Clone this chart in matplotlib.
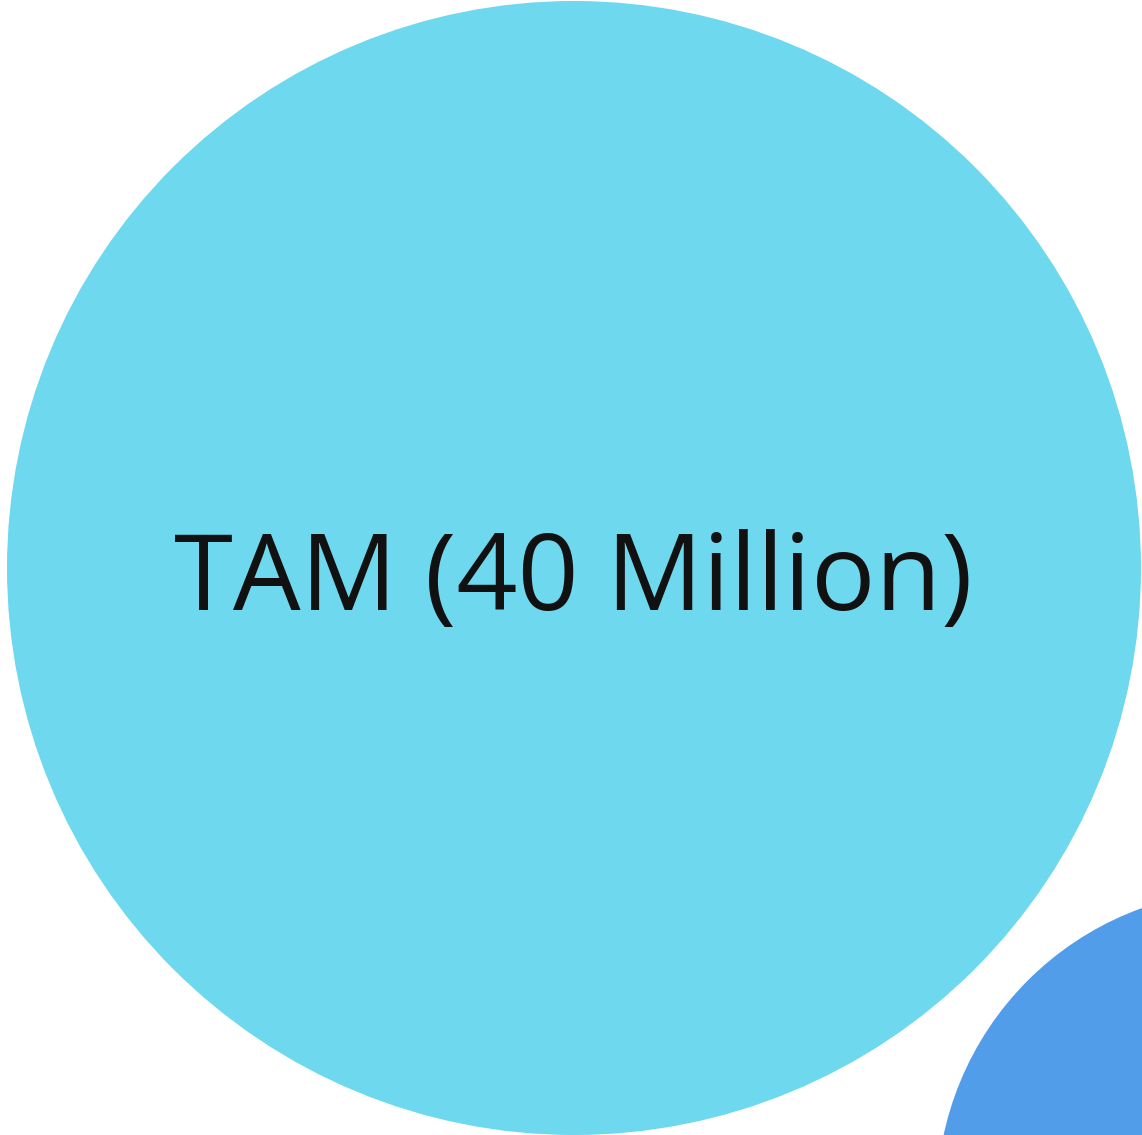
import matplotlib
matplotlib.use("Agg")
import matplotlib.pyplot as plt
from matplotlib.patches import Circle
import numpy as np

# market sizes (millions)
labels = ["TAM", "SAM"]
values = [40, 12]
colors = ["#6ed8ee", "#519dea"]

W, H = 1142, 1135
fig = plt.figure(figsize=(W / 100, H / 100), dpi=100)
ax = fig.add_axes([0, 0, 1, 1])
ax.set_xlim(0, W)
ax.set_ylim(H, 0)
ax.set_aspect("equal")
ax.axis("off")

# radius proportional to sqrt(value)
k = 567 / np.sqrt(values[0])
radii = [k * np.sqrt(v) for v in values]

# first bubble sits at top-left, next one packed to its lower right
cx0, cy0 = 7 + radii[0], 1 + radii[0]
gap = 46
ang = np.deg2rad(43.2)
d = radii[0] + radii[1] + gap
centers = [(cx0, cy0), (cx0 + d * np.cos(ang), cy0 + d * np.sin(ang))]

for (cx, cy), r, c in zip(centers, radii, colors):
    ax.add_patch(Circle((cx, cy), r, facecolor=c, edgecolor="none"))

ax.text(centers[0][0] - 1, 610, f"{labels[0]} ({values[0]} Million)",
        ha="center", va="baseline", fontsize=77, family="Open Sans",
        color="#111111")

fig.savefig("out.png", dpi=100)
